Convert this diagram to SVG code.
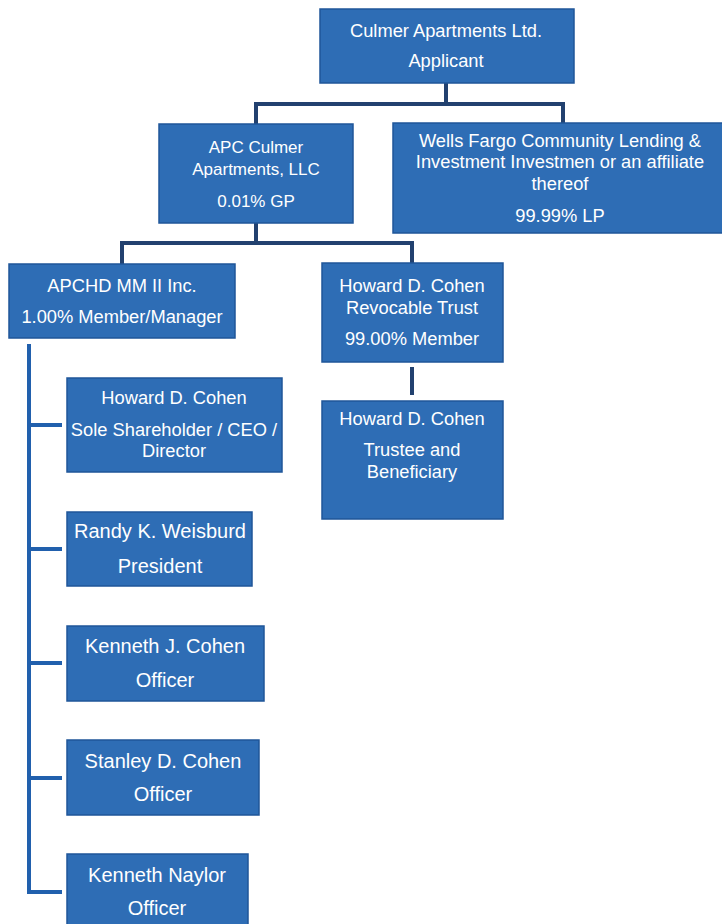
<svg xmlns="http://www.w3.org/2000/svg" width="722" height="924" viewBox="0 0 722 924">
<style>
.box{fill:#2e6db5;stroke:#1f5699;stroke-width:1.5}
.t{font-family:"Liberation Sans",Arial,sans-serif;fill:#ffffff;text-anchor:middle}
.s17{font-size:17px}
.s18{font-size:18.3px}
.s20{font-size:20px}
.c1{stroke:#22416f;stroke-width:4;fill:none;stroke-linecap:square}
.c2{stroke:#2160ad;stroke-width:4;fill:none;stroke-linecap:square}
</style>
<rect width="722" height="924" fill="#ffffff"/>
<g id="connectors">
<path class="c1" d="M446,84 V104 M256,104 H563 M256,104 V122 M563,104 V121"/>
<path class="c1" d="M256,224 V243 M122,243 H412 M122,243 V262 M412,243 V261"/>
<path class="c1" d="M412,369 V393"/>
<path class="c2" d="M29,346 V892 M29,425 H60 M29,549 H60 M29,663 H60 M29,778 H60 M29,892 H60"/>
</g>
<g id="culmer">
<rect class="box" x="320" y="9" width="254" height="74"/>
<text class="t s18" x="446" y="37">Culmer Apartments Ltd.</text>
<text class="t s18" x="446" y="67">Applicant</text>
</g>
<g id="apc">
<rect class="box" x="159" y="124" width="194" height="99"/>
<text class="t s17" x="256" y="153">APC Culmer</text>
<text class="t s17" x="256" y="175">Apartments, LLC</text>
<text class="t s17" x="256" y="207">0.01% GP</text>
</g>
<g id="wells">
<rect class="box" x="393" y="123" width="331" height="110"/>
<text class="t s18" x="560" y="147">Wells Fargo Community Lending &amp;</text>
<text class="t s18" x="560" y="168">Investment Investmen or an affiliate</text>
<text class="t s18" x="560" y="190">thereof</text>
<text class="t s18" x="560" y="222">99.99% LP</text>
</g>
<g id="apchd">
<rect class="box" x="9" y="264" width="226" height="74"/>
<text class="t s18" x="122" y="292">APCHD MM II Inc.</text>
<text class="t s18" x="122" y="323">1.00% Member/Manager</text>
</g>
<g id="trust">
<rect class="box" x="322" y="263" width="181" height="99"/>
<text class="t s18" x="412" y="292">Howard D. Cohen</text>
<text class="t s18" x="412" y="314">Revocable Trust</text>
<text class="t s18" x="412" y="345">99.00% Member</text>
</g>
<g id="beneficiary">
<rect class="box" x="322" y="401" width="181" height="118"/>
<text class="t s18" x="412" y="425">Howard D. Cohen</text>
<text class="t s18" x="412" y="456">Trustee and</text>
<text class="t s18" x="412" y="478">Beneficiary</text>
</g>
<g id="howard">
<rect class="box" x="67" y="378" width="215" height="94"/>
<text class="t s18" x="174" y="404">Howard D. Cohen</text>
<text class="t s18" x="174" y="436">Sole Shareholder / CEO /</text>
<text class="t s18" x="174" y="457">Director</text>
</g>
<g id="randy">
<rect class="box" x="67" y="512" width="185" height="74"/>
<text class="t s20" x="160" y="538">Randy K. Weisburd</text>
<text class="t s20" x="160" y="573">President</text>
</g>
<g id="kenneth-j">
<rect class="box" x="67" y="626" width="197" height="75"/>
<text class="t s20" x="165" y="653">Kenneth J. Cohen</text>
<text class="t s20" x="165" y="687">Officer</text>
</g>
<g id="stanley">
<rect class="box" x="67" y="740" width="192" height="75"/>
<text class="t s20" x="163" y="768">Stanley D. Cohen</text>
<text class="t s20" x="163" y="801">Officer</text>
</g>
<g id="naylor">
<rect class="box" x="67" y="854" width="181" height="75"/>
<text class="t s20" x="157" y="882">Kenneth Naylor</text>
<text class="t s20" x="157" y="915">Officer</text>
</g>
</svg>
